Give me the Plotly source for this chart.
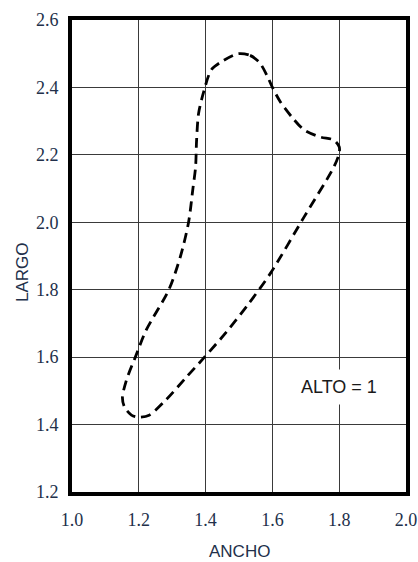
import plotly.graph_objects as go

# Closed outline (ANCHO, LARGO), clockwise from hump top
ancho = [1.497, 1.533, 1.562, 1.586, 1.600, 1.624, 1.660, 1.695, 1.743, 1.784,
         1.800, 1.800, 1.784, 1.695, 1.595, 1.530, 1.462, 1.394, 1.340, 1.281,
         1.231, 1.200, 1.178, 1.157, 1.151, 1.163, 1.192, 1.222, 1.290, 1.325,
         1.349, 1.362, 1.370, 1.373, 1.379, 1.394, 1.417, 1.447, 1.497]
largo = [2.500, 2.495, 2.473, 2.431, 2.400, 2.357, 2.310, 2.274, 2.253, 2.244,
         2.224, 2.205, 2.164, 2.016, 1.850, 1.760, 1.674, 1.597, 1.538, 1.473,
         1.428, 1.422, 1.428, 1.452, 1.480, 1.532, 1.606, 1.680, 1.800, 1.900,
         2.000, 2.100, 2.164, 2.243, 2.323, 2.386, 2.452, 2.476, 2.500]

x_ticks = [1.0, 1.2, 1.4, 1.6, 1.8, 2.0]
x_tick_labels = ["1.0", "1.2", "1.4", "1.6", "1.8", "2.0"]
y_ticks = [1.2, 1.4, 1.6, 1.8, 2.0, 2.2, 2.4, 2.6]
y_tick_labels = ["1.2", "1.4", "1.6", "1.8", "2.0", "2.2", "2.4", "2.6"]

label_text = "ALTO = 1"
label_x, label_y = 1.80, 1.511
x_title = "ANCHO"
y_title = "LARGO"

text_color = "#22304a"
tick_font = dict(family="Liberation Serif, DejaVu Serif, serif", size=18, color=text_color)
sans = "Liberation Sans, Arial, sans-serif"

fig = go.Figure()
fig.add_trace(go.Scatter(
    x=ancho, y=largo, mode="lines",
    line=dict(color="black", width=2.8, dash="10px,6px", shape="spline", smoothing=0.8),
    hoverinfo="skip", showlegend=False,
))

axis_common = dict(
    showline=True, linecolor="black", linewidth=4, mirror=True,
    showgrid=True, gridcolor="#3a3a3a", gridwidth=1,
    zeroline=False, ticks="", tickfont=tick_font, automargin=False,
    ticklabeloverflow="allow",
)

fig.update_xaxes(range=[1.0, 2.0], tickvals=x_ticks, ticktext=x_tick_labels,
                 ticklabelstandoff=8, **axis_common)
fig.update_yaxes(range=[1.2, 2.6], tickvals=y_ticks, ticktext=y_tick_labels,
                 ticklabelstandoff=6, **axis_common)

fig.add_annotation(x=label_x, y=label_y, xref="x", yref="y", text=label_text,
                   showarrow=False, bgcolor="white", borderpad=7,
                   font=dict(family=sans, size=18, color="#1a1a1a"))
fig.add_annotation(x=0.5, y=0, xref="paper", yref="paper", yshift=-59,
                   xanchor="center", yanchor="middle",
                   text=x_title, showarrow=False,
                   font=dict(family=sans, size=17, color=text_color))
fig.add_annotation(x=0, y=0.5, xref="paper", yref="paper", xshift=-50, yshift=-16,
                   xanchor="center", yanchor="middle",
                   text=y_title, textangle=-90, showarrow=False,
                   font=dict(family=sans, size=17, color=text_color))

fig.update_layout(
    width=418, height=562,
    margin=dict(l=72, r=12, t=20, b=70, autoexpand=False),
    paper_bgcolor="white", plot_bgcolor="white",
    showlegend=False,
)

fig.write_html(
    "out.html",
    config={"displayModeBar": False},
    post_script="document.body.style.margin='0';document.body.style.overflow='hidden';",
)
